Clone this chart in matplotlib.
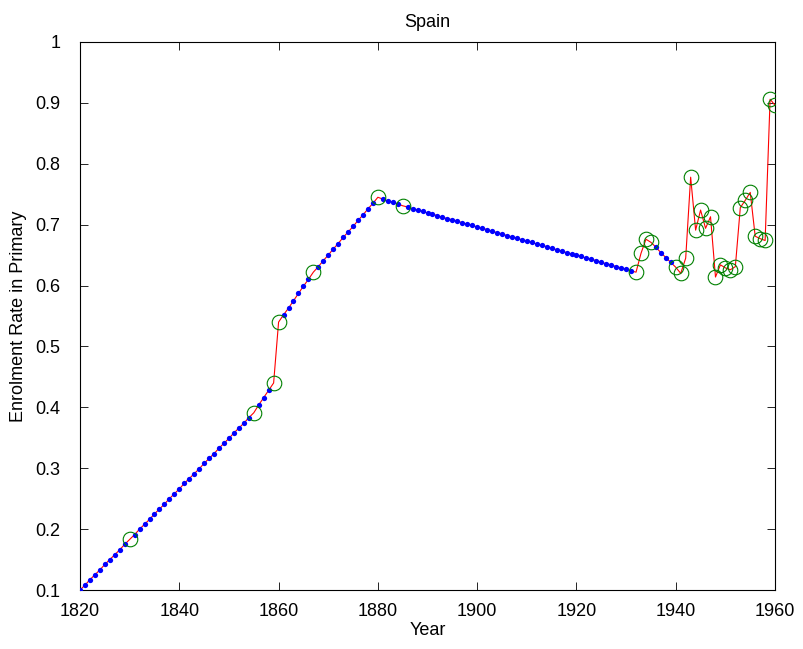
import numpy as np
import matplotlib.pyplot as plt

plt.rcParams['font.family'] = ['Liberation Sans', 'DejaVu Sans']

# yearly enrolment series 1820-1960
years = np.arange(1820, 1961)
enrolment = [
    0.100, 0.108, 0.117, 0.125, 0.133, 0.142, 0.150, 0.158, 0.166, 0.175,  # 1820s
    0.183, 0.191, 0.200, 0.208, 0.216, 0.225, 0.233, 0.241, 0.250, 0.258,  # 1830s
    0.266, 0.275, 0.283, 0.291, 0.299, 0.308, 0.316, 0.324, 0.333, 0.341,  # 1840s
    0.349, 0.358, 0.366, 0.374, 0.383, 0.391, 0.404, 0.416, 0.428, 0.440,  # 1850s
    0.540, 0.552, 0.563, 0.575, 0.587, 0.599, 0.610, 0.622, 0.631, 0.641,  # 1860s
    0.650, 0.660, 0.669, 0.679, 0.688, 0.697, 0.707, 0.716, 0.726, 0.735,  # 1870s
    0.745, 0.742, 0.739, 0.737, 0.734, 0.731, 0.729, 0.726, 0.724, 0.722,  # 1880s
    0.719, 0.717, 0.715, 0.712, 0.710, 0.708, 0.706, 0.703, 0.701, 0.699,  # 1890s
    0.696, 0.694, 0.692, 0.689, 0.687, 0.685, 0.682, 0.680, 0.678, 0.675,  # 1900s
    0.673, 0.671, 0.668, 0.666, 0.664, 0.661, 0.659, 0.657, 0.654, 0.652,  # 1910s
    0.650, 0.648, 0.645, 0.643, 0.641, 0.638, 0.636, 0.634, 0.631, 0.629,  # 1920s
    0.627, 0.624, 0.622, 0.653, 0.676, 0.671, 0.663, 0.654, 0.646, 0.638,  # 1930s
    0.630, 0.620, 0.645, 0.778, 0.691, 0.724, 0.694, 0.713, 0.614, 0.634,  # 1940s
    0.629, 0.626, 0.631, 0.728, 0.740, 0.753, 0.681, 0.677, 0.674, 0.906,  # 1950s
    0.896,
]
enrolment = np.array(enrolment)

# years with an actual observation (green circles); the rest are filled (blue dots)
observed_years = [1830, 1855, 1859, 1860, 1867, 1880, 1885,
                  1932, 1933, 1934, 1935] + list(range(1940, 1961))

obs = np.isin(years, observed_years)

fig = plt.figure(figsize=(8.04, 6.49), dpi=100)
ax = fig.add_axes([0.0995, 0.0909, 0.8645, 0.8444])

ax.plot(years, enrolment, color='red', lw=0.8, zorder=2)
ax.plot(years[~obs], enrolment[~obs], 'o', color='blue', ms=3.8, mew=0, zorder=3)
ax.plot(years[obs], enrolment[obs], 'o', mfc='none', mec=(0, 0.5, 0), ms=10.5, mew=0.8, zorder=4)

ax.set_xlim(1820, 1960)
ax.set_ylim(0.1, 1)
ax.set_xticks(range(1820, 1961, 20))
ax.set_yticks(np.arange(0.1, 1.01, 0.1))
ax.set_yticklabels(['0.1', '0.2', '0.3', '0.4', '0.5', '0.6', '0.7', '0.8', '0.9', '1'])
ax.tick_params(direction='in', top=True, right=True, length=6, labelsize=13, width=0.6)
ax.tick_params(axis='x', pad=9)
ax.tick_params(axis='y', pad=14)
for s in ax.spines.values():
    s.set_linewidth(0.8)

ax.set_title('Spain', fontsize=13, pad=11)
ax.set_xlabel('Year', fontsize=13, labelpad=2)
ax.set_ylabel('Enrolment Rate in Primary', fontsize=13, labelpad=6)

fig.savefig('out.png', dpi=100)
